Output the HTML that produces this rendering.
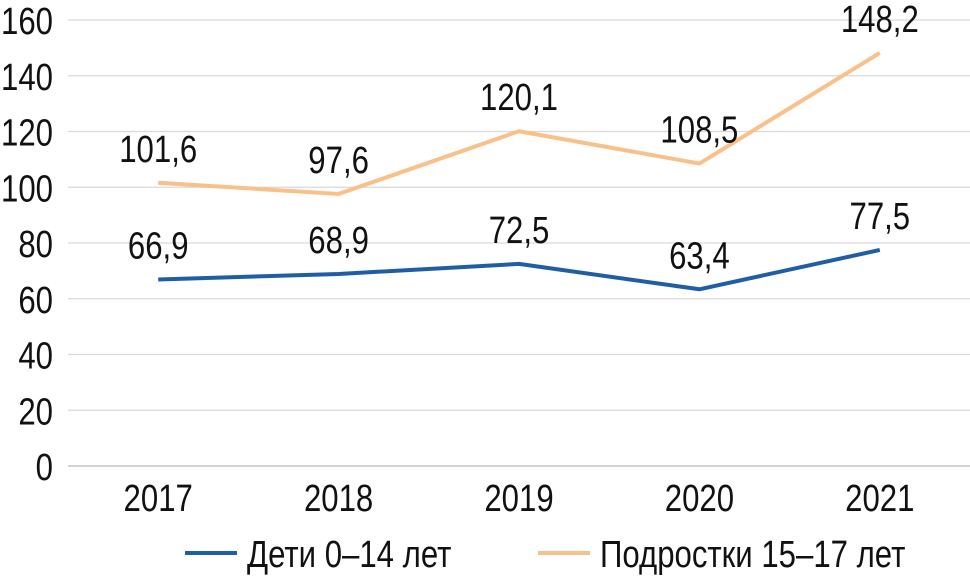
<!DOCTYPE html>
<html><head><meta charset="utf-8"><style>
body{margin:0;background:#fff;}
svg text{font-family:"Liberation Sans",sans-serif;fill:#111;}
</style></head><body>
<svg id="chart" width="970" height="580"></svg>
<script>
const categories=["2017","2018","2019","2020","2021"];
const childValues=[66.9,68.9,72.5,63.4,77.5];
const teenValues=[101.6,97.6,120.1,108.5,148.2];
const yTicks=[0,20,40,60,80,100,120,140,160];
const NS="http://www.w3.org/2000/svg";
const svg=document.getElementById('chart');
const L=68,R=970,T=20,B=466;
const x=i=>L+(R-L)/categories.length*(i+0.5);
const y=v=>B-(v/160)*(B-T);
function mk(tag,attrs,parent){const e=document.createElementNS(NS,tag);for(const k in attrs)e.setAttribute(k,attrs[k]);(parent||svg).appendChild(e);return e;}
function txt(px,py,anchor,s,parent){
  const e=mk('text',{x:0,y:0,'text-anchor':anchor,'font-size':38,transform:'translate('+px+','+py+') scale(0.82,1)'},parent);
  e.textContent=s;return e;
}
const grid=mk('g',{});


yTicks.forEach(t=>{
  const l=mk('line',{x1:L,x2:R,y1:y(t),y2:y(t),stroke:t===0?'#bbb':'#d9d9d9','stroke-width':1.3},grid);
  
  
  const tx=txt(53,y(t)+14,'end',String(t));
  
  
});
categories.forEach((c,i)=>{
  const tx=txt(x(i),511,'middle',c);
  
  
});
function series(vals,color,name){
  const p=mk('polyline',{points:vals.map((v,i)=>x(i)+','+y(v)).join(' '),fill:'none',stroke:color,'stroke-width':4,'stroke-linejoin':'round'});
  
  
  vals.forEach((v,i)=>{
    const tx=txt(x(i),y(v)-21,'middle',v.toFixed(1).replace('.',','));
    
    
  });
}
series(teenValues,'#f9c089','teens');
series(childValues,'#1f5ea6','children');
const lg=mk('g',{});


[['#1f5ea6','Дети 0–14 лет',185],['#f9c089','Подростки 15–17 лет',538]].forEach(([c,t,lx])=>{
  const l=mk('line',{x1:lx,x2:lx+52,y1:553,y2:553,stroke:c,'stroke-width':4},lg);
  
  
  const tx=txt(lx+62,567,'start',t,lg);
  
  
});
</script>
</body></html>
